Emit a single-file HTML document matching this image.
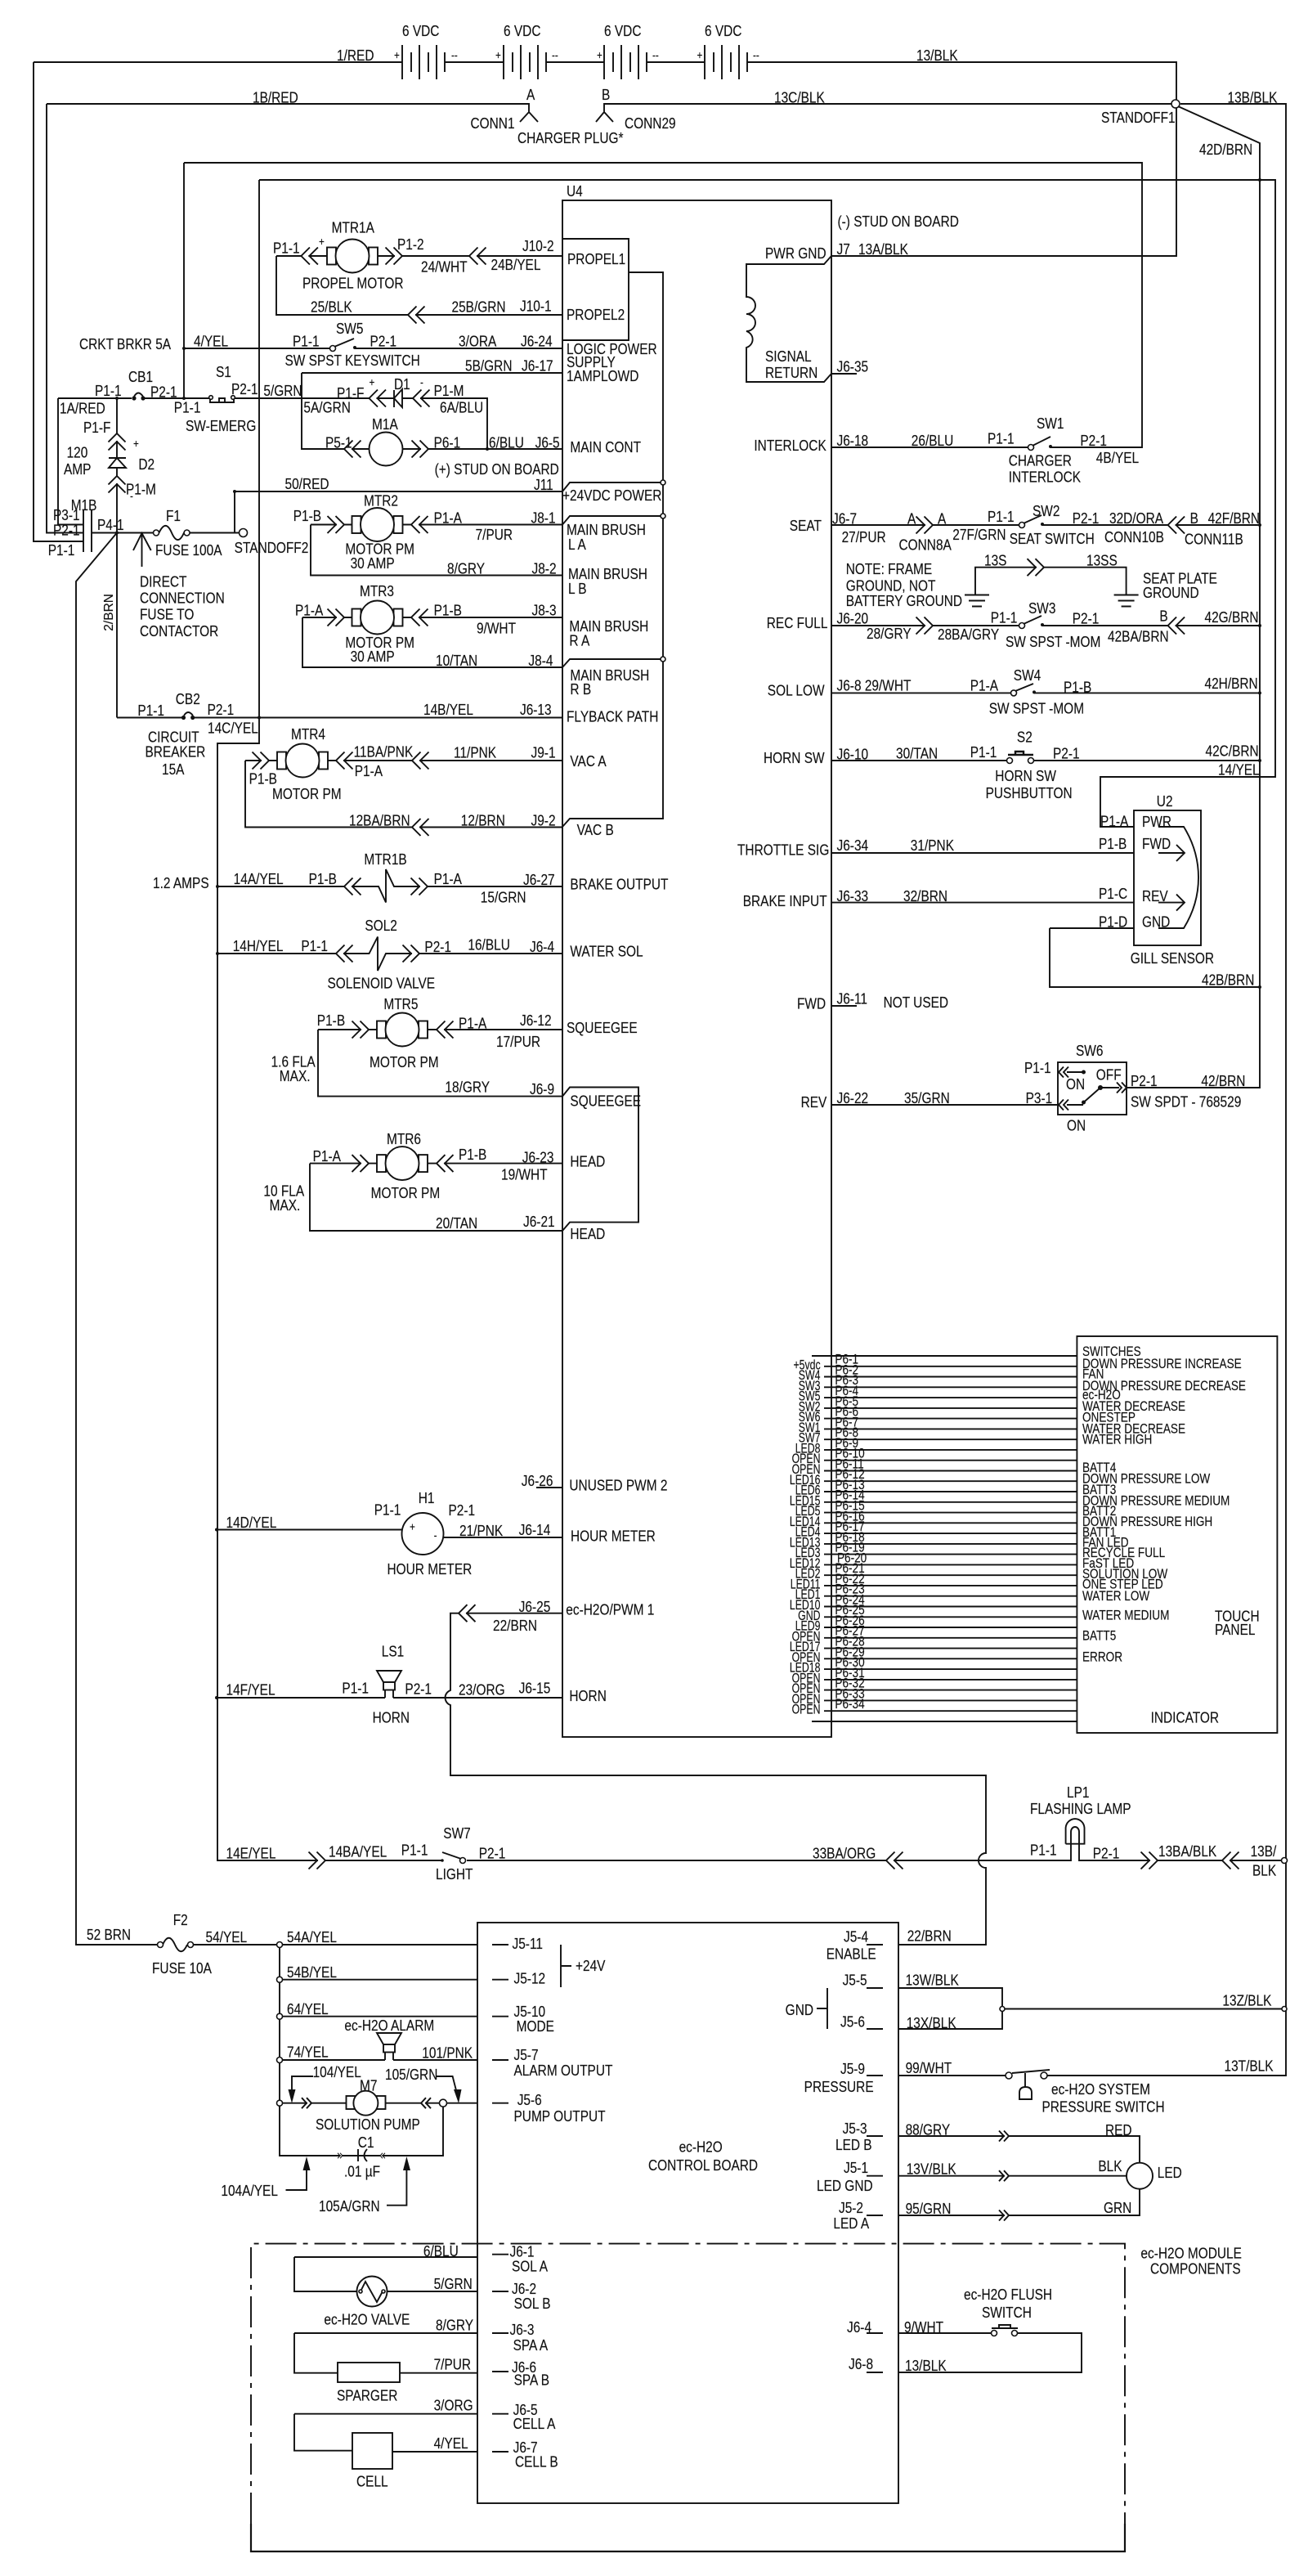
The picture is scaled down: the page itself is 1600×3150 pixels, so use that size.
<!DOCTYPE html>
<html><head><meta charset="utf-8"><title>Wiring diagram</title>
<style>
html,body{margin:0;padding:0;background:#fff}
svg{display:block}
text{font-family:"Liberation Sans",Arial,sans-serif;font-size:18.5px;fill:#111;stroke:#111;stroke-width:.15;transform-box:fill-box;transform-origin:0 50%;transform:scaleX(.835)}
text.s{font-size:17px;transform:scaleX(.8)}
text.e{font-size:17px;text-anchor:end;transform-origin:100% 50%;transform:scaleX(.725)}
text.r{font-size:15.5px;transform:none}
text.t{font-size:14px}
.w{fill:none;stroke:#111;stroke-width:1.9}
.c{fill:#fff;stroke:#111;stroke-width:1.9}
.d{fill:#111;stroke:none}
.o{fill:#fff;stroke:#111;stroke-width:1.6}
</style></head><body>
<svg xmlns="http://www.w3.org/2000/svg" width="1600" height="3150" viewBox="0 0 1600 3150">
<defs>
<g id="L"><path d="M1 0H9" stroke="#fff" stroke-width="4" fill="none"/><path class="w" d="M10.5-10.5L0 0L10.5 10.5M20.5-10.5L10 0L20.5 10.5"/></g>
<g id="R"><path d="M-1 0H-9" stroke="#fff" stroke-width="4" fill="none"/><path class="w" d="M-10.5-10.5L0 0L-10.5 10.5M-20.5-10.5L-10 0L-20.5 10.5"/></g>
<g id="l"><path d="M1 0H5" stroke="#fff" stroke-width="3" fill="none"/><path class="w" d="M6-6.5L0 0L6 6.5M12-6.5L6 0L12 6.5"/></g>
<g id="r"><path d="M-1 0H-5" stroke="#fff" stroke-width="3" fill="none"/><path class="w" d="M-6-6.5L0 0L-6 6.5M-12-6.5L-6 0L-12 6.5"/></g>
<g id="M"><rect class="c" x="-31" y="-10.5" width="11" height="21"/><rect class="c" x="20" y="-10.5" width="11" height="21"/><circle class="c" r="20.5"/></g>
<g id="B"><path class="w" d="M0 55V97M11 64V88M21 55V97M32 64V88M42 55V97M52 64V88"/></g>
<g id="H"><path class="c" d="M-15-33H15L7-19H-7Z"/><rect class="c" x="-7" y="-19" width="14" height="9.5"/><path class="w" d="M-5-9.5V0M5-9.5V0"/></g>
<g id="G"><path class="w" d="M-15 0H15M-10 7H10M-6 14H6"/></g>
</defs>

<!-- wires -->
<path class="w" d="M41 76H492M544 76H616M668 76H739M791 76H862M914 76H1439V313H1017
M41 76V662H102M57 127H647V137M636 149L647 137L658 149M739 137V127H1433M729 149L739 137L750 149
M1444 127H1573V2538H1281M1441 130L1541 175V1330H1378
M225 199H1397V547H1285M317 220H1560V950H1346V1011H1387M317 220V909H266V2275H541M225 199V487
M225 426H407M434 426H688
M338 313H400M462 313H688M338 313V385H688
M688 292H769V416H688M769 333H811V1001H697L688 1011
M688 601L697 590H811M688 641.5L697 631H811M688 816L697 806H811
M369 456H688M369 456V549H452M493 549H688
M71 487H161M176 487H256M287 487H482M492 487H596V549
M71 487V641.5H102M57 127V651.5H102M143 487V877.5
M112 651.5H187M232 651.5H292M287 601V651.5M287 601H688
M102 624V675M112 624V675
M143 877.5H224M236 877.5H688M143 651.5L93 711V2378H192
M173.5 693V652M163 673L173.5 652L184.7 673
M380 641.5H431M492 641.5H688M380 641.5V703.5H688
M370 755H431M492 755H688M370 755V816H688
M300 930H339M401 930H688M300 930V1011.5H688
M266 1084H463L472 1103.5V1063L482 1084H688
M266 1166H451.5L462 1145.5V1187L472 1166H688
M389 1259H461M523 1259H688M389 1259V1340.6H688
M379 1422.6H461M523 1422.6H688M379 1422.6V1505H688
M688 1340.6L697 1329.5H781V1494.6H697L688 1505
M1017 313L1008 323H913V363A11 10.5 0 0 1 913 384A11 10.5 0 0 1 913 405A11 10.5 0 0 1 913 425V467H1008L1017 457H1048
M1017 547H1258M1017 642H1246M1275 642H1541M1193 727V693.7H1377.6V727
M1017 765H1246M1275 765H1541M1017 847.4H1236M1265 847.4H1541M1017 930H1232M1264 930H1541
M1017 1043H1387M1017 1103.6H1387M1284 1135H1387M1284 1135V1207H1541M1017 1230H1048M1017 1351H1294
M1417 1011H1448Q1466 1040 1466 1073Q1466 1106 1448 1135H1417
M1417 1043H1449M1439 1033L1449 1043L1439 1053M1417 1103.6H1449M1439 1093.6L1449 1103.6L1439 1113.6
M1325 1351H1305M1325 1311H1305M1325.5 1348L1346 1330H1369
M266 1870.5H492M542 1880H688M656 1819H688
M688 1972.7H551V2067A9.5 9.5 0 0 0 551 2085V2171H1206V2266A9 9 0 0 0 1206 2284V2378H1099
M266 2076H471M481 2076H688M571 2275H1310V2254M1320 2254V2275H1571
M1303.6 2254.7V2235A11.5 12 0 0 1 1326.5 2235V2254.7H1303.6M1310 2254.7V2240A5 6 0 0 1 1320 2240V2254.7
M1099 2431H1226V2481H1099M1226 2456.5H1571
M1099 2538H1230M1238 2535L1284 2531M1254 2534V2552M1247 2567V2559Q1247 2552 1254.5 2552Q1262 2552 1262 2559V2567Z
M1099 2612H1394V2645M1394 2677V2709H1099M1099 2660.7H1378
M1099 2853H1213M1244 2853H1323V2901H1099M1213 2847H1245M1222 2847V2843H1236V2847
M237 2378H584M342 2378V2636H542V2571.7
M342 2420.7H584M342 2465.7H584M342 2519H471M481 2519H584M342 2571.7H423M471 2571.7H584
M342 2636H438M446 2636H542M438 2628V2643M449 2628Q442 2636 449 2643
M686 2378V2430M686 2404H699M999 2456H1012M1012 2431V2481
M383 2539H357V2560M533 2539H553.6L559 2560
M349.5 2678H375V2650M473 2696.7H497.4V2650
M602 2378H622M602 2420.7H622M602 2465.7H622M602 2519H622M602 2571.7H622
M1060 2378H1080M1060 2431H1080M1060 2481H1080M1060 2538H1080M1060 2612H1080M1060 2660.7H1080M1060 2709H1080M1060 2853H1080M1060 2901H1080
M602 2756.7H622M602 2802H622M602 2853H622M602 2900H622M602 2951.7H622M602 2998H622
M360 2760H584M360 2760V2802H437M473 2802H584
M360 2853H584M360 2853V2901.7H413M489 2901.7H584
M360 2951.7H584M360 2951.7V2996.7H431M480 2998H584
M993 1658H1317M1008 1670.8H1317M1008 1683.5H1317M1008 1696.3H1317M1008 1709.1H1317M1008 1721.9H1317M1008 1734.6H1317M1008 1747.4H1317M1008 1760.2H1317M1008 1772.9H1317M1008 1785.7H1317M1008 1798.5H1317M1008 1811.2H1317M1008 1824H1317M1008 1836.8H1317M1008 1849.6H1317M1008 1862.3H1317M1008 1875.1H1317M1008 1887.9H1317M1008 1900.6H1317M1008 1913.4H1317M1008 1926.2H1317M1008 1938.9H1317M1008 1951.7H1317M1008 1964.5H1317M1008 1977.3H1317M1008 1990H1317M1008 2002.8H1317M1008 2015.6H1317M1008 2028.3H1317M1008 2041.1H1317M1008 2053.9H1317M1008 2066.6H1317M1008 2079.4H1317M1008 2092.2H1317M993 2105H1317"/>
<rect class="w" x="688" y="245" width="329" height="1879"/>
<rect class="w" x="1387" y="991" width="82" height="165"/>
<rect class="w" x="1294" y="1299" width="84" height="64"/>
<rect class="w" x="1317.4" y="1634" width="245" height="485"/>
<rect class="w" x="584" y="2351" width="515" height="710"/>
<rect class="c" x="413" y="2889" width="76" height="24"/>
<rect class="c" x="431" y="2975" width="49" height="44"/>
<path class="w" d="M307 3086V2743.6H1376V3086" stroke-dasharray="38 8 6 8"/>
<path class="w" style="stroke-width:2.2" d="M307 3086V3120H1376V3086"/>

<!-- batteries -->
<use href="#B" x="492"/><use href="#B" x="616"/><use href="#B" x="739"/><use href="#B" x="862"/>

<!-- motors -->
<use href="#M" x="431" y="313"/><use href="#M" x="461.5" y="641.5"/><use href="#M" x="461.5" y="755"/><use href="#M" x="370" y="930"/><use href="#M" x="492" y="1259"/><use href="#M" x="492" y="1422.6"/>
<circle class="c" cx="472" cy="549" r="20.5"/>
<rect class="c" x="423.5" y="2563" width="48" height="16"/><circle class="c" cx="447.4" cy="2571.7" r="15"/>

<!-- chevrons -->
<use href="#L" x="368.4" y="313"/><use href="#R" x="492" y="313"/><use href="#L" x="574" y="313"/><use href="#L" x="499" y="385"/>
<use href="#L" x="451.5" y="487"/><use href="#L" x="505" y="487"/>
<use href="#L" x="421" y="549"/><use href="#R" x="524" y="549"/>
<use href="#L" transform="translate(143 530) rotate(90)"/><use href="#L" transform="translate(143 582) rotate(90)"/>
<use href="#R" x="421" y="641.5"/><use href="#L" x="503" y="641.5"/>
<use href="#R" x="421" y="755"/><use href="#L" x="503" y="755"/>
<use href="#R" x="329" y="930"/><use href="#L" x="411" y="930"/><use href="#L" x="504" y="930"/><use href="#L" x="504" y="1011.5"/>
<use href="#L" x="421" y="1084"/><use href="#R" x="523" y="1084"/>
<use href="#L" x="411" y="1166"/><use href="#R" x="513" y="1166"/>
<use href="#R" x="451" y="1259"/><use href="#L" x="534" y="1259"/>
<use href="#R" x="451" y="1422.6"/><use href="#L" x="534" y="1422.6"/>
<use href="#R" x="1141" y="642"/><use href="#L" x="1428.6" y="642"/><use href="#R" x="1277" y="693.7"/>
<use href="#R" x="1141" y="765"/><use href="#L" x="1428.6" y="765"/>
<use href="#l" x="1295" y="1311"/><use href="#l" x="1295" y="1351"/><use href="#r" x="1378" y="1330"/>
<use href="#L" x="561" y="1972.7"/><use href="#R" x="398" y="2275"/><use href="#L" x="1084" y="2275"/><use href="#R" x="1416" y="2275"/><use href="#L" x="1495" y="2275"/>
<use href="#r" x="1234" y="2612"/><use href="#r" x="1234" y="2660.7"/><use href="#r" x="1234" y="2709"/>
<use href="#r" x="381" y="2571.7"/><use href="#l" x="515" y="2571.7"/>
<use href="#l" transform="translate(465 2636) scale(.5)"/><use href="#r" transform="translate(419 2636) scale(.5)"/>

<!-- diodes, fuses, breakers -->
<path class="c" d="M482 487L492 476V498Z"/><path class="w" d="M482 477V498"/>
<path class="c" d="M143 560L133 572H154Z"/><path class="w" d="M133 560H154"/>
<path class="w" d="M194.5 651.5C200 640 205 640 210 651.5S220 663 225 651.5"/><circle class="o" cx="191" cy="651.5" r="3.5"/><circle class="o" cx="228.6" cy="651.5" r="3.5"/>
<circle class="o" cx="297.5" cy="651.5" r="5"/><circle class="o" cx="1438" cy="127" r="5"/>
<path class="w" d="M199 2378C204 2367 209 2367 214 2378S224 2389 229 2378"/><circle class="o" cx="196" cy="2378" r="3.5"/><circle class="o" cx="233" cy="2378" r="3.5"/>
<path class="w" d="M164 485Q169 476 175 485"/><circle class="d" cx="164" cy="487" r="2.6"/><circle class="d" cx="175" cy="487" r="2.6"/>
<path class="w" d="M225 875Q230 867 236 875"/><circle class="d" cx="224.5" cy="877.5" r="2.6"/><circle class="d" cx="235.7" cy="877.5" r="2.6"/>
<path class="w" d="M256 492H287M257 487V492M286 487V492M268 492V487H275V492"/><circle class="o" cx="258" cy="486" r="2.3"/><circle class="o" cx="285" cy="486" r="2.3"/>

<!-- switches -->
<path class="w" d="M409 424L433 414"/><circle class="o" cx="407" cy="426" r="3.5"/><circle class="d" cx="434" cy="425" r="2"/>
<path class="w" d="M1263 545L1285 534"/><circle class="o" cx="1261" cy="547" r="3.5"/><circle class="d" cx="1285" cy="546" r="2"/>
<path class="w" d="M1252 640L1274 630"/><circle class="o" cx="1250" cy="642" r="3.5"/><circle class="d" cx="1275" cy="641" r="2"/>
<path class="w" d="M1252 763L1274 753"/><circle class="o" cx="1250" cy="765" r="3.5"/><circle class="d" cx="1275" cy="764" r="2"/>
<path class="w" d="M1242 845L1264 836"/><circle class="o" cx="1240" cy="847.4" r="3.5"/><circle class="d" cx="1265" cy="846.4" r="2"/>
<path class="w" style="stroke-width:2.4" d="M1233 923H1264M1242 923V919H1252V923"/><circle class="o" cx="1235" cy="930" r="3.5"/><circle class="o" cx="1261" cy="930" r="3.5"/>
<circle class="d" cx="1325.5" cy="1348" r="2.5"/><circle class="d" cx="1325.5" cy="1311" r="2.5"/><circle class="d" cx="1346" cy="1330" r="3"/>
<path class="w" d="M541 2265L564 2273"/><circle class="d" cx="541" cy="2275" r="1.8"/><circle class="o" cx="566" cy="2275" r="3.5"/>
<circle class="o" cx="1234" cy="2538" r="4"/><circle class="o" cx="1277" cy="2538" r="4"/>
<circle class="o" cx="1216" cy="2853" r="3.5"/><circle class="o" cx="1241" cy="2853" r="3.5"/>

<!-- horns, meter, LED, valve -->
<use href="#H" x="476" y="2076"/><use href="#H" x="476" y="2519"/>
<circle class="c" cx="517" cy="1875.5" r="25.5"/>
<circle class="c" cx="1394" cy="2660.7" r="16"/>
<circle class="c" cx="455" cy="2802" r="18.5"/><path class="w" d="M441 2802L447 2790L461 2815L468 2802"/><circle class="o" cx="441" cy="2802" r="2"/><circle class="o" cx="469" cy="2802" r="2"/>

<!-- grounds -->
<use href="#G" x="1195" y="727.5"/><use href="#G" x="1377.6" y="727.5"/>

<!-- arrowheads and dots -->
<path class="d" d="M357 2572L352.5 2555H361.5ZM561 2572L555 2555H564.5ZM375 2637L370.5 2654H379.5ZM497.4 2637L493 2654H502Z"/>
<g class="d"><circle cx="225" cy="487" r="2"/><circle cx="225" cy="426" r="2"/><circle cx="143" cy="487" r="2"/><circle cx="143" cy="651.5" r="2"/><circle cx="596" cy="549" r="2"/><circle cx="287" cy="601" r="2"/><circle cx="317" cy="877.5" r="2"/><circle cx="266" cy="1084" r="2"/><circle cx="266" cy="1166" r="2"/><circle cx="265" cy="1870.5" r="2"/><circle cx="265" cy="2076" r="2"/><circle cx="1541" cy="642" r="2"/><circle cx="1541" cy="765" r="2"/><circle cx="1541" cy="847.4" r="2"/><circle cx="1541" cy="930" r="2"/><circle cx="1541" cy="1207" r="2"/><circle cx="1541" cy="220" r="2"/></g>
<g class="o"><circle cx="811" cy="590" r="3"/><circle cx="811" cy="631" r="3"/><circle cx="811" cy="806" r="3"/><circle cx="1226" cy="2456.5" r="3"/><circle cx="1571" cy="2456.5" r="3"/><circle cx="1571" cy="2275" r="3.5"/><circle cx="342" cy="2378" r="3.5"/><circle cx="342" cy="2420.7" r="3.5"/><circle cx="342" cy="2465.7" r="3.5"/><circle cx="342" cy="2519" r="3.5"/><circle cx="342" cy="2571.7" r="3.5"/><circle cx="542" cy="2571.7" r="4.5"/></g>

<!-- top labels -->
<text x="412" y="74">1/RED</text><text x="492" y="44">6 VDC</text><text x="616" y="44">6 VDC</text><text x="739" y="44">6 VDC</text><text x="862" y="44">6 VDC</text>
<text class="t" x="482" y="72">+</text><text class="t" x="606" y="72">+</text><text class="t" x="730" y="72">+</text><text class="t" x="852.5" y="72">+</text>
<text class="t" x="552" y="72">--</text><text class="t" x="675" y="72">--</text><text class="t" x="798" y="72">--</text><text class="t" x="921" y="72">--</text>
<text x="1121" y="74">13/BLK</text><text x="309" y="125.5">1B/RED</text><text x="644" y="122">A</text><text x="736" y="122">B</text>
<text x="575.5" y="157">CONN1</text><text x="764" y="157">CONN29</text><text x="633" y="175">CHARGER PLUG*</text>
<text x="947" y="125.5">13C/BLK</text><text x="1501.5" y="125.5">13B/BLK</text><text x="1347" y="150">STANDOFF1</text><text x="1467" y="189">42D/BRN</text>
<text x="693" y="240">U4</text><text x="1024.5" y="277">(-) STUD ON BOARD</text><text x="936" y="316">PWR GND</text><text x="1023.5" y="311">J7</text><text x="1050" y="311">13A/BLK</text>
<text x="936" y="442">SIGNAL</text><text x="936" y="462">RETURN</text><text x="1023.5" y="454.6">J6-35</text><text x="1268" y="524">SW1</text>

<!-- left upper labels -->
<text x="405.6" y="284.5">MTR1A</text><text x="334" y="309.7">P1-1</text><text class="t" x="390" y="300">+</text><text x="486" y="305">P1-2</text><text x="639" y="307">J10-2</text><text x="515" y="332.4">24/WHT</text><text x="600.5" y="330">24B/YEL</text><text x="694" y="323">PROPEL1</text><text x="370" y="352.5">PROPEL MOTOR</text><text x="380" y="381.6">25/BLK</text><text x="552.5" y="381.6">25B/GRN</text><text x="636" y="380.6">J10-1</text><text x="693" y="391">PROPEL2</text>
<text x="411" y="408">SW5</text><text x="97" y="427">CRKT BRKR 5A</text><text x="237" y="423.5">4/YEL</text><text x="358" y="423.5">P1-1</text><text x="452.5" y="423.5">P2-1</text><text x="561" y="423.5">3/ORA</text><text x="637" y="423.5">J6-24</text>
<text x="693" y="433">LOGIC POWER</text><text x="693" y="449">SUPPLY</text><text x="693" y="466">1AMPLOWD</text><text x="348.5" y="447">SW SPST KEYSWITCH</text><text x="569" y="453.6">5B/GRN</text><text x="638" y="453.6">J6-17</text>
<text x="157" y="467">CB1</text><text x="264" y="461">S1</text><text x="116" y="484">P1-1</text><text x="184" y="485.4">P2-1</text><text x="283" y="482">P2-1</text><text x="322.4" y="484">5/GRN</text><text x="412" y="487">P1-F</text><text x="482" y="476">D1</text><text class="t" x="451.5" y="472">+</text><text class="t" x="514" y="472">-</text><text x="530.6" y="484">P1-M</text>
<text x="73" y="505.5">1A/RED</text><text x="212.8" y="504.5">P1-1</text><text x="371.4" y="504.5">5A/GRN</text><text x="538" y="504.5">6A/BLU</text><text x="455" y="525">M1A</text><text x="102" y="529">P1-F</text><text x="227" y="527">SW-EMERG</text>
<text x="398" y="547.4">P5-1</text><text x="530.6" y="547.4">P6-1</text><text x="598" y="547.4">6/BLU</text><text x="654.6" y="547.4">J6-5</text><text x="697.4" y="553">MAIN CONT</text><text class="t" x="163" y="547">+</text><text x="169.4" y="574">D2</text><text x="81.6" y="559.5">120</text><text x="78" y="580">AMP</text><text x="531.6" y="580">(+) STUD ON BOARD</text><text x="348.5" y="598">50/RED</text><text x="653" y="599">J11</text><text x="688" y="612">+24VDC POWER</text><text x="154" y="604.7">P1-M</text><text class="t" x="159" y="611">-</text>
<text x="86.7" y="624">M1B</text><text x="65" y="636">P3-1</text><text x="65" y="654.6">P2-1</text><text x="119" y="648">P4-1</text><text x="58.7" y="679">P1-1</text><text x="203" y="637">F1</text><text x="190" y="679">FUSE 100A</text><text x="286.7" y="676">STANDOFF2</text>
<text x="445" y="618.7">MTR2</text><text x="358.7" y="637">P1-B</text><text x="530.6" y="639.5">P1-A</text><text x="649.5" y="639.5">J8-1</text><text x="581.6" y="660">7/PUR</text><text x="693" y="654">MAIN BRUSH</text><text x="695" y="672">L A</text><text x="422.4" y="677.7">MOTOR PM</text><text x="428.6" y="695">30 AMP</text><text x="547" y="701.4">8/GRY</text><text x="650.5" y="701.4">J8-2</text><text x="695" y="708">MAIN BRUSH</text><text x="695" y="726">L B</text>
<text class="r" style="transform:translate(138px,771.7px) rotate(-90deg);transform-box:view-box;transform-origin:0 0">2/BRN</text>
<text x="171" y="717.5">DIRECT</text><text x="171" y="737.6">CONNECTION</text><text x="171" y="757.7">FUSE TO</text><text x="171" y="777.8">CONTACTOR</text>
<text x="440" y="729">MTR3</text><text x="361" y="752.6">P1-A</text><text x="530.6" y="752.6">P1-B</text><text x="650.5" y="752.6">J8-3</text><text x="583" y="774.4">9/WHT</text><text x="696.4" y="772">MAIN BRUSH</text><text x="696.4" y="789.5">R A</text><text x="422.4" y="792">MOTOR PM</text><text x="428.6" y="809">30 AMP</text><text x="533" y="814">10/TAN</text><text x="646.4" y="814">J8-4</text><text x="697.4" y="832">MAIN BRUSH</text><text x="697.4" y="849">R B</text>
<text x="214.8" y="861">CB2</text><text x="168.4" y="875">P1-1</text><text x="253.6" y="874">P2-1</text><text x="518" y="874">14B/YEL</text><text x="636" y="874">J6-13</text><text x="693" y="882.5">FLYBACK PATH</text><text x="254" y="896.6">14C/YEL</text><text x="181" y="907.7">CIRCUIT</text><text x="177.5" y="925.7">BREAKER</text><text x="198" y="947">15A</text>
<text x="356" y="904">MTR4</text><text x="432.6" y="925.7">11BA/PNK</text><text x="555" y="926.7">11/PNK</text><text x="649.5" y="926.7">J9-1</text><text x="697.4" y="936.8">VAC A</text><text x="433.7" y="949">P1-A</text><text x="304.6" y="958.5">P1-B</text><text x="333" y="977">MOTOR PM</text><text x="427" y="1009.4">12BA/BRN</text><text x="563.8" y="1009.4">12/BRN</text><text x="649.5" y="1009.4">J9-2</text><text x="705.6" y="1021">VAC B</text>
<text x="445.4" y="1057">MTR1B</text><text x="187" y="1086">1.2 AMPS</text><text x="285.7" y="1080.8">14A/YEL</text><text x="377.6" y="1080.8">P1-B</text><text x="530.6" y="1080.8">P1-A</text><text x="640" y="1081.8">J6-27</text><text x="587.8" y="1103.6">15/GRN</text><text x="697.4" y="1087.5">BRAKE OUTPUT</text>
<text x="446.4" y="1138">SOL2</text><text x="284.7" y="1162.8">14H/YEL</text><text x="368.4" y="1162.8">P1-1</text><text x="519.4" y="1163.8">P2-1</text><text x="572.4" y="1161.5">16/BLU</text><text x="648" y="1163.8">J6-4</text><text x="697.4" y="1169.5">WATER SOL</text><text x="400.5" y="1208.4">SOLENOID VALVE</text>
<text x="469.4" y="1234">MTR5</text><text x="387.8" y="1254">P1-B</text><text x="561" y="1257.6">P1-A</text><text x="636" y="1254">J6-12</text><text x="693" y="1263">SQUEEGEE</text><text x="607" y="1280">17/PUR</text><text x="331.6" y="1304.4">1.6 FLA</text><text x="341.8" y="1322">MAX.</text><text x="452" y="1305">MOTOR PM</text><text x="544.4" y="1335.6">18/GRY</text><text x="648" y="1338">J6-9</text><text x="697.4" y="1352.3">SQUEEGEE</text>
<text x="473" y="1399">MTR6</text><text x="382.6" y="1420">P1-A</text><text x="561" y="1418">P1-B</text><text x="638.8" y="1421.6">J6-23</text><text x="697.4" y="1426.6">HEAD</text><text x="613" y="1442.4">19/WHT</text><text x="322.4" y="1462.4">10 FLA</text><text x="329.6" y="1480">MAX.</text><text x="453.6" y="1465">MOTOR PM</text><text x="533" y="1502">20/TAN</text><text x="640" y="1500">J6-21</text><text x="697.4" y="1515">HEAD</text>

<!-- right side labels -->
<text x="922.4" y="550.8">INTERLOCK</text><text x="1023.5" y="545">J6-18</text><text x="1114.8" y="545">26/BLU</text><text x="1208" y="542.7">P1-1</text><text x="1321.4" y="545">P2-1</text><text x="1340.8" y="566">4B/YEL</text><text x="1233.7" y="569.5">CHARGER</text><text x="1233.7" y="589.3">INTERLOCK</text>
<text x="965.8" y="649">SEAT</text><text x="1018" y="640.5">J6-7</text><text x="1110" y="640.5">A</text><text x="1147" y="640.5">A</text><text x="1029.6" y="663">27/PUR</text><text x="1099.5" y="672.6">CONN8A</text><text x="1165.3" y="660">27F/GRN</text><text x="1208" y="638">P1-1</text><text x="1263" y="631">SW2</text><text x="1311.7" y="640">P2-1</text><text x="1357" y="640">32D/ORA</text><text x="1455.6" y="640">B</text><text x="1477.6" y="640">42F/BRN</text><text x="1234.7" y="665">SEAT SWITCH</text><text x="1351" y="663">CONN10B</text><text x="1449" y="665.6">CONN11B</text>
<text x="1204" y="691.4">13S</text><text x="1329" y="691.4">13SS</text><text x="1034.7" y="701.8">NOTE: FRAME</text><text x="1034.7" y="722.5">GROUND, NOT</text><text x="1034.7" y="741">BATTERY GROUND</text><text x="1398" y="713.5">SEAT PLATE</text><text x="1398" y="731">GROUND</text>
<text x="1258" y="750">SW3</text><text x="937.8" y="768">REC FULL</text><text x="1023.5" y="762.7">J6-20</text><text x="1211.7" y="761.4">P1-1</text><text x="1311.7" y="762.7">P2-1</text><text x="1418.4" y="759.4">B</text><text x="1473.5" y="761">42G/BRN</text><text x="1060" y="781">28/GRY</text><text x="1147" y="782">28BA/GRY</text><text x="1230" y="791">SW SPST -MOM</text><text x="1355" y="784.5">42BA/BRN</text>
<text x="938.8" y="850.7">SOL LOW</text><text x="1023.5" y="844.7">J6-8 29/WHT</text><text x="1239.8" y="832">SW4</text><text x="1186.7" y="844.7">P1-A</text><text x="1301" y="846.4">P1-B</text><text x="1473.5" y="842">42H/BRN</text><text x="1209.7" y="872.5">SW SPST -MOM</text>
<text x="1243.9" y="907.7">S2</text><text x="934" y="932.8">HORN SW</text><text x="1023.5" y="928.4">J6-10</text><text x="1096" y="927.4">30/TAN</text><text x="1186.7" y="926">P1-1</text><text x="1288" y="927.4">P2-1</text><text x="1474.5" y="924.4">42C/BRN</text><text x="1490" y="947.5">14/YEL</text><text x="1217.3" y="955">HORN SW</text><text x="1205.6" y="976">PUSHBUTTON</text>
<text x="1414.8" y="986">U2</text><text x="1346" y="1010.4">P1-A</text><text x="1397" y="1011">PWR</text><text x="1344" y="1038">P1-B</text><text x="1397" y="1038">FWD</text><text x="902" y="1045.6">THROTTLE SIG</text><text x="1023.5" y="1040">J6-34</text><text x="1113.8" y="1040">31/PNK</text>
<text x="908.7" y="1108">BRAKE INPUT</text><text x="1023.5" y="1102">J6-33</text><text x="1105" y="1102">32/BRN</text><text x="1344" y="1099">P1-C</text><text x="1397" y="1102">REV</text><text x="1344" y="1133.7">P1-D</text><text x="1397" y="1133.7">GND</text><text x="1382.7" y="1178">GILL SENSOR</text><text x="1470" y="1204.7">42B/BRN</text>
<text x="975" y="1233.5">FWD</text><text x="1023.5" y="1227.4">J6-11</text><text x="1080.6" y="1231.8">NOT USED</text>
<text x="1316" y="1291">SW6</text><text x="1253" y="1312">P1-1</text><text x="1304" y="1332">ON</text><text x="1340.8" y="1320.5">OFF</text><text x="1383" y="1328">P2-1</text><text x="1469.4" y="1328">42/BRN</text><text x="979.6" y="1354">REV</text><text x="1023.5" y="1349">J6-22</text><text x="1106" y="1349">35/GRN</text><text x="1254.6" y="1349">P3-1</text><text x="1383" y="1353.6">SW SPDT - 768529</text><text x="1305" y="1382.5">ON</text>

<!-- indicator -->
<g>
<text class="e" x="1003.5" y="1674.3">+5vdc</text><text class="e" x="1003.5" y="1687.1">SW4</text><text class="e" x="1003.5" y="1699.8">SW3</text><text class="e" x="1003.5" y="1712.6">SW5</text><text class="e" x="1003.5" y="1725.4">SW2</text><text class="e" x="1003.5" y="1738.1">SW6</text><text class="e" x="1003.5" y="1750.9">SW1</text><text class="e" x="1003.5" y="1763.7">SW7</text><text class="e" x="1003.5" y="1776.5">LED8</text><text class="e" x="1003.5" y="1789.2">OPEN</text><text class="e" x="1003.5" y="1802">OPEN</text><text class="e" x="1003.5" y="1814.8">LED16</text><text class="e" x="1003.5" y="1827.5">LED6</text><text class="e" x="1003.5" y="1840.3">LED15</text><text class="e" x="1003.5" y="1853.1">LED5</text><text class="e" x="1003.5" y="1865.9">LED14</text><text class="e" x="1003.5" y="1878.6">LED4</text><text class="e" x="1003.5" y="1891.4">LED13</text><text class="e" x="1003.5" y="1904.2">LED3</text><text class="e" x="1003.5" y="1916.9">LED12</text><text class="e" x="1003.5" y="1929.7">LED2</text><text class="e" x="1003.5" y="1942.5">LED11</text><text class="e" x="1003.5" y="1955.2">LED1</text><text class="e" x="1003.5" y="1968">LED10</text><text class="e" x="1003.5" y="1980.8">GND</text><text class="e" x="1003.5" y="1993.6">LED9</text><text class="e" x="1003.5" y="2006.3">OPEN</text><text class="e" x="1003.5" y="2019.1">LED17</text><text class="e" x="1003.5" y="2031.9">OPEN</text><text class="e" x="1003.5" y="2044.6">LED18</text><text class="e" x="1003.5" y="2057.4">OPEN</text><text class="e" x="1003.5" y="2070.2">OPEN</text><text class="e" x="1003.5" y="2082.9">OPEN</text><text class="e" x="1003.5" y="2095.7">OPEN</text>
<text class="s" x="1021.4" y="1667.7">P6-1</text><text class="s" x="1021.4" y="1680.5">P6-2</text><text class="s" x="1021.4" y="1693.2">P6-3</text><text class="s" x="1021.4" y="1706">P6-4</text><text class="s" x="1021.4" y="1718.8">P6-5</text><text class="s" x="1021.4" y="1731.5">P6-6</text><text class="s" x="1021.4" y="1744.3">P6-7</text><text class="s" x="1021.4" y="1757.1">P6-8</text><text class="s" x="1021.4" y="1769.9">P6-9</text><text class="s" x="1021.4" y="1782.6">P6-10</text><text class="s" x="1021.4" y="1795.4">P6-11</text><text class="s" x="1021.4" y="1808.2">P6-12</text><text class="s" x="1021.4" y="1820.9">P6-13</text><text class="s" x="1021.4" y="1833.7">P6-14</text><text class="s" x="1021.4" y="1846.5">P6-15</text><text class="s" x="1021.4" y="1859.3">P6-16</text><text class="s" x="1021.4" y="1872">P6-17</text><text class="s" x="1021.4" y="1884.8">P6-18</text><text class="s" x="1021.4" y="1897.6">P6-19</text><text class="s" x="1024" y="1910.3">P6-20</text><text class="s" x="1021.4" y="1923.1">P6-21</text><text class="s" x="1021.4" y="1935.9">P6-22</text><text class="s" x="1021.4" y="1948.6">P6-23</text><text class="s" x="1021.4" y="1961.4">P6-24</text><text class="s" x="1021.4" y="1974.2">P6-25</text><text class="s" x="1021.4" y="1987">P6-26</text><text class="s" x="1021.4" y="1999.7">P6-27</text><text class="s" x="1021.4" y="2012.5">P6-28</text><text class="s" x="1021.4" y="2025.3">P6-29</text><text class="s" x="1021.4" y="2038">P6-30</text><text class="s" x="1021.4" y="2050.8">P6-31</text><text class="s" x="1021.4" y="2063.6">P6-32</text><text class="s" x="1021.4" y="2076.3">P6-33</text><text class="s" x="1021.4" y="2089.1">P6-34</text>
<text class="s" x="1324" y="1658">SWITCHES</text><text class="s" x="1324" y="1673">DOWN PRESSURE INCREASE</text><text class="s" x="1324" y="1685.7">FAN</text><text class="s" x="1324" y="1700">DOWN PRESSURE DECREASE</text><text class="s" x="1324" y="1711">ec-H2O</text><text class="s" x="1324" y="1725">WATER DECREASE</text><text class="s" x="1324" y="1738.7">ONESTEP</text><text class="s" x="1324" y="1752.7">WATER DECREASE</text><text class="s" x="1324" y="1765.7">WATER HIGH</text><text class="s" x="1324" y="1800">BATT4</text><text class="s" x="1324" y="1813.7">DOWN PRESSURE LOW</text><text class="s" x="1324" y="1827">BATT3</text><text class="s" x="1324" y="1840.7">DOWN PRESSURE MEDIUM</text><text class="s" x="1324" y="1853">BATT2</text><text class="s" x="1324" y="1866">DOWN PRESSURE HIGH</text><text class="s" x="1324" y="1879">BATT1</text><text class="s" x="1324" y="1891.7">FAN LED</text><text class="s" x="1324" y="1904">RECYCLE FULL</text><text class="s" x="1324" y="1917">FaST LED</text><text class="s" x="1324" y="1930">SOLUTION LOW</text><text class="s" x="1324" y="1942.7">ONE STEP LED</text><text class="s" x="1324" y="1957">WATER LOW</text><text class="s" x="1324" y="1980.7">WATER MEDIUM</text><text class="s" x="1324" y="2005.7">BATT5</text><text class="s" x="1324" y="2031.7">ERROR</text>
<text x="1486" y="1982.7">TOUCH</text><text x="1486" y="1999">PANEL</text><text x="1407.6" y="2106.7">INDICATOR</text>
</g>

<!-- middle labels -->
<text x="637.8" y="1817">J6-26</text><text x="696.4" y="1822.7">UNUSED PWM 2</text><text x="511.7" y="1838">H1</text><text x="457.7" y="1852.6">P1-1</text><text x="548.5" y="1853">P2-1</text><text x="276.5" y="1868">14D/YEL</text><text class="t" x="501" y="1871.7">+</text><text class="t" x="530.6" y="1882">-</text><text x="562" y="1878">21/PNK</text><text x="634.7" y="1877">J6-14</text><text x="698" y="1884.7">HOUR METER</text><text x="473.5" y="1925">HOUR METER</text>
<text x="634.7" y="1971">J6-25</text><text x="692.3" y="1974.6">ec-H2O/PWM 1</text><text x="603" y="1993.8">22/BRN</text><text x="466.8" y="2025.5">LS1</text><text x="418.4" y="2070.7">P1-1</text><text x="276.5" y="2072.6">14F/YEL</text><text x="495.4" y="2071.5">P2-1</text><text x="561" y="2072.6">23/ORG</text><text x="634.7" y="2070.7">J6-15</text><text x="696.4" y="2080">HORN</text><text x="455.6" y="2106.7">HORN</text>
<text x="542.3" y="2248">SW7</text><text x="276.5" y="2272.4">14E/YEL</text><text x="402" y="2270.5">14BA/YEL</text><text x="490.8" y="2268.6">P1-1</text><text x="585.7" y="2272.4">P2-1</text><text x="533" y="2298">LIGHT</text>
<text x="1305" y="2198">LP1</text><text x="1260" y="2218">FLASHING LAMP</text><text x="994" y="2272.4">33BA/ORG</text><text x="1260" y="2268.4">P1-1</text><text x="1336.7" y="2272.4">P2-1</text><text x="1417" y="2270">13BA/BLK</text><text x="1529.6" y="2270">13B/</text><text x="1532" y="2293.5">BLK</text>

<!-- ec-H2O board right labels -->
<text x="1032" y="2374.5">J5-4</text><text x="1109.7" y="2373.5">22/BRN</text><text x="1010.7" y="2395.6">ENABLE</text><text x="1030.6" y="2427.4">J5-5</text><text x="1107.6" y="2427.4">13W/BLK</text><text x="960.7" y="2464">GND</text><text x="1028" y="2478.3">J5-6</text><text x="1108.7" y="2480">13X/BLK</text><text x="1495.4" y="2452.5">13Z/BLK</text><text x="1028" y="2536">J5-9</text><text x="1107.6" y="2535">99/WHT</text><text x="1497.5" y="2532.6">13T/BLK</text><text x="983.7" y="2558">PRESSURE</text><text x="1286" y="2561">ec-H2O SYSTEM</text><text x="1274.5" y="2582.7">PRESSURE SWITCH</text><text x="1030.6" y="2609">J5-3</text><text x="1107.6" y="2610.5">88/GRY</text><text x="1352" y="2611">RED</text>
<text x="1022" y="2629">LED B</text><text x="830.6" y="2631.6">ec-H2O</text><text x="793" y="2654">CONTROL BOARD</text><text x="1032" y="2657">J5-1</text><text x="1108.7" y="2658.6">13V/BLK</text><text x="1343.4" y="2655">BLK</text><text x="1415.8" y="2663">LED</text><text x="999" y="2679">LED GND</text><text x="1026" y="2706">J5-2</text><text x="1107.6" y="2707">95/GRN</text><text x="1350" y="2706">GRN</text><text x="1019.4" y="2725">LED A</text>
<text x="1395.4" y="2761.3">ec-H2O MODULE</text><text x="1407" y="2780.6">COMPONENTS</text><text x="1179" y="2812">ec-H2O FLUSH</text><text x="1201" y="2834">SWITCH</text><text x="1036" y="2852">J6-4</text><text x="1106" y="2852">9/WHT</text><text x="1038" y="2897">J6-8</text><text x="1107" y="2899">13/BLK</text>

<!-- ec-H2O board left labels -->
<text x="211.7" y="2354">F2</text><text x="106" y="2372">52 BRN</text><text x="251.5" y="2375">54/YEL</text><text x="351" y="2375">54A/YEL</text><text x="186" y="2413">FUSE 10A</text><text x="626.5" y="2383">J5-11</text><text x="628.5" y="2425.7">J5-12</text><text x="704" y="2410">+24V</text><text x="351" y="2418">54B/YEL</text><text x="351" y="2463">64/YEL</text><text x="628.5" y="2466">J5-10</text><text x="631.6" y="2484">MODE</text><text x="421.4" y="2483">ec-H2O ALARM</text><text x="351" y="2515.7">74/YEL</text><text x="516.3" y="2516.7">101/PNK</text><text x="628.5" y="2519">J5-7</text><text x="628.5" y="2538">ALARM OUTPUT</text><text x="382.6" y="2540">104/YEL</text><text x="471" y="2543">105/GRN</text><text x="440" y="2556.7">M7</text><text x="632.7" y="2574">J5-6</text><text x="628.5" y="2594">PUMP OUTPUT</text><text x="386" y="2604">SOLUTION PUMP</text><text x="437.8" y="2626">C1</text><text x="421" y="2661.7">.01 µF</text><text x="270.4" y="2685">104A/YEL</text><text x="390" y="2704">105A/GRN</text>
<text x="517.9" y="2759">6/BLU</text><text x="623.5" y="2759.3">J6-1</text><text x="626" y="2777.3">SOL A</text><text x="530.6" y="2799">5/GRN</text><text x="626" y="2805">J6-2</text><text x="628.6" y="2823">SOL B</text><text x="396.4" y="2842.7">ec-H2O VALVE</text><text x="533" y="2849.3">8/GRY</text><text x="623.5" y="2855">J6-3</text><text x="627.6" y="2874">SPA A</text><text x="530.6" y="2897.7">7/PUR</text><text x="626" y="2901">J6-6</text><text x="628.6" y="2916.7">SPA B</text><text x="412" y="2935.3">SPARGER</text><text x="530.6" y="2947.7">3/ORG</text><text x="627.6" y="2953">J6-5</text><text x="627.6" y="2970">CELL A</text><text x="530.6" y="2994">4/YEL</text><text x="627.6" y="2999">J6-7</text><text x="630" y="3016.7">CELL B</text><text x="436" y="3040.7">CELL</text>
</svg>
</body></html>
